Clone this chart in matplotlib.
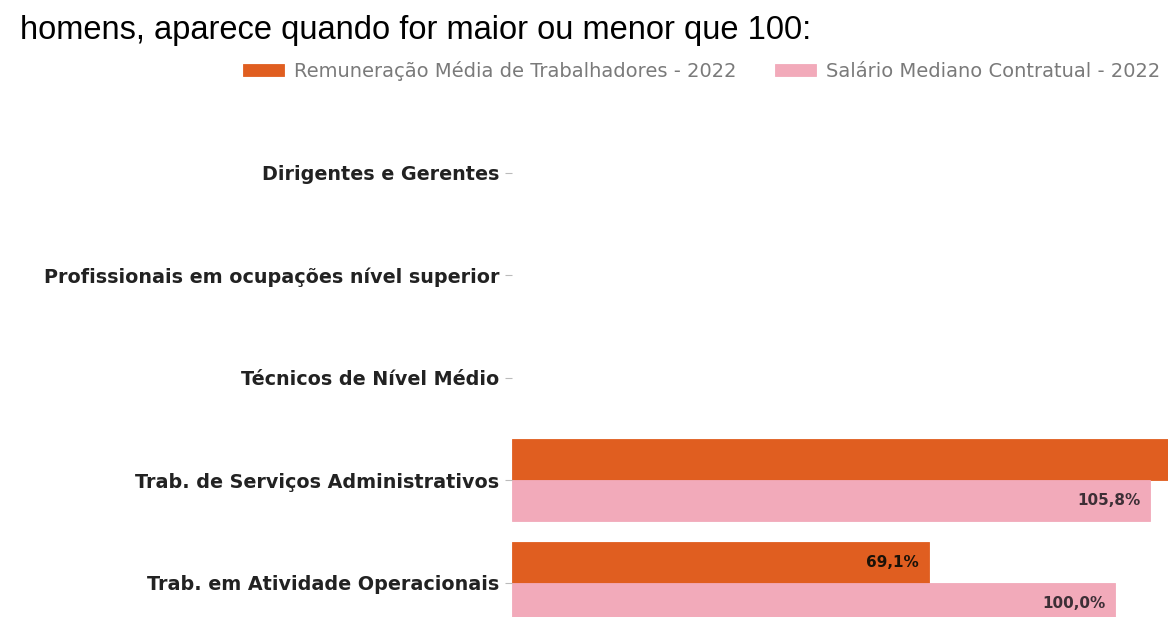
import matplotlib
matplotlib.use("Agg")
import matplotlib.pyplot as plt
import numpy as np

# data (blank rows have no values)
categorias = [
    "Dirigentes e Gerentes",
    "Profissionais em ocupações nível superior",
    "Técnicos de Nível Médio",
    "Trab. de Serviços Administrativos",
    "Trab. em Atividade Operacionais",
]
remuneracao_media = [np.nan, np.nan, np.nan, 126.0, 69.1]
salario_mediano = [np.nan, np.nan, np.nan, 105.8, 100.0]
rotulo_remuneracao = "Remuneração Média de Trabalhadores - 2022"
rotulo_salario = "Salário Mediano Contratual - 2022"
titulo = "homens, aparece quando for maior ou menor que 100:"

COR_LARANJA = "#E05E20"
COR_ROSA = "#F2AABA"

W, H = 1168, 617
fig = plt.figure(figsize=(W / 100, H / 100), dpi=100)

# axes is a crop of a bigger chart, so it runs past the right and bottom edge
px_per_unit = 6.03
x_max = 140
row_px = 102.5
y_top, y_bot = -0.6, 5.5
ax_left = 512 / W
ax_width = x_max * px_per_unit / W
top_px = 173 + y_top * row_px
bot_px = 173 + y_bot * row_px
ax = fig.add_axes([ax_left, 1 - bot_px / H, ax_width, (bot_px - top_px) / H])
x_visivel = (W - 512) / px_per_unit  # last x value still inside the crop

y = np.arange(len(categorias))
h = 0.4
b1 = ax.barh(y - h / 2, remuneracao_media, height=h, color=COR_LARANJA,
             edgecolor=COR_LARANJA, linewidth=0.6, label=rotulo_remuneracao)
b2 = ax.barh(y + h / 2, salario_mediano, height=h, color=COR_ROSA,
             edgecolor=COR_ROSA, linewidth=0.6, label=rotulo_salario)

for barras, vals, cor in [(b1, remuneracao_media, "#1a1208"), (b2, salario_mediano, "#3d2f36")]:
    for bar, v in zip(barras, vals):
        # no value, or label falls outside the cropped view
        if np.isnan(v) or v > x_visivel:
            continue
        ax.text(v - 1.6, bar.get_y() + bar.get_height() / 2,
                f"{v:.1f}%".replace(".", ","), ha="right", va="center",
                fontsize=11, fontweight="bold", color=cor)

ax.set_xlim(0, x_max)
ax.set_ylim(y_bot, y_top)
ax.set_yticks(y)
ax.set_yticklabels(categorias, fontsize=13.8, fontweight="bold", color="#222222")
ax.tick_params(axis="y", length=5, color="#bbbbbb", pad=4)
ax.set_xticks([])
for s in ax.spines.values():
    s.set_visible(False)

fig.legend(handles=[b1, b2], labels=[rotulo_remuneracao, rotulo_salario],
           loc="center left", bbox_to_anchor=(243 / W, 1 - 71 / H), ncol=2,
           frameon=False, fontsize=14, labelcolor="#7a7a7a",
           handlelength=2.1, handleheight=0.6, columnspacing=2.0, handletextpad=0.5,
           borderaxespad=0, borderpad=0)

fig.text(20 / W, 1 - 31 / H, titulo, fontsize=23.5, family="Liberation Sans",
         color="black", ha="left", va="center")

fig.savefig("out.png", dpi=100)
